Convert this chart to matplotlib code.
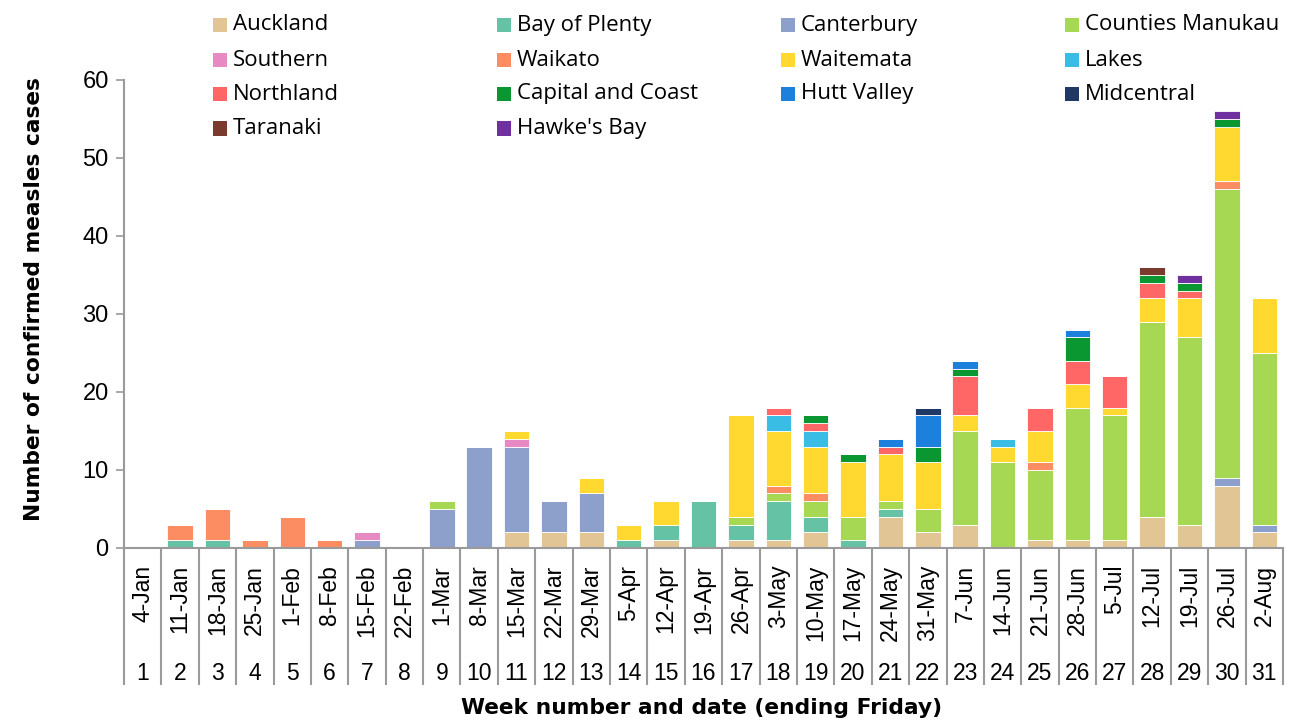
import numpy as np
import matplotlib.pyplot as plt
from matplotlib.patches import Rectangle

# ===== DATA =====
weeks = list(range(1, 32))
dates = ['4-Jan', '11-Jan', '18-Jan', '25-Jan', '1-Feb', '8-Feb', '15-Feb', '22-Feb',
         '1-Mar', '8-Mar', '15-Mar', '22-Mar', '29-Mar', '5-Apr', '12-Apr', '19-Apr',
         '26-Apr', '3-May', '10-May', '17-May', '24-May', '31-May', '7-Jun', '14-Jun',
         '21-Jun', '28-Jun', '5-Jul', '12-Jul', '19-Jul', '26-Jul', '2-Aug']

#                    wk 1-10                        wk 11-20                        wk 21-31
auckland         = [0, 0, 0, 0, 0, 0, 0, 0, 0, 0,  2, 2, 2, 0, 1, 0, 1, 1, 2, 0,  4, 2, 3, 0, 1, 1, 1, 4, 3, 8, 2]
bay_of_plenty    = [0, 1, 1, 0, 0, 0, 0, 0, 0, 0,  0, 0, 0, 1, 2, 6, 2, 5, 2, 1,  1, 0, 0, 0, 0, 0, 0, 0, 0, 0, 0]
canterbury       = [0, 0, 0, 0, 0, 0, 1, 0, 5, 13, 11, 4, 5, 0, 0, 0, 0, 0, 0, 0,  0, 0, 0, 0, 0, 0, 0, 0, 0, 1, 1]
counties_manukau = [0, 0, 0, 0, 0, 0, 0, 0, 1, 0,  0, 0, 0, 0, 0, 0, 1, 1, 2, 3,  1, 3, 12, 11, 9, 17, 16, 25, 24, 37, 22]
southern         = [0, 0, 0, 0, 0, 0, 1, 0, 0, 0,  1, 0, 0, 0, 0, 0, 0, 0, 0, 0,  0, 0, 0, 0, 0, 0, 0, 0, 0, 0, 0]
waikato          = [0, 2, 4, 1, 4, 1, 0, 0, 0, 0,  0, 0, 0, 0, 0, 0, 0, 1, 1, 0,  0, 0, 0, 0, 1, 0, 0, 0, 0, 1, 0]
waitemata        = [0, 0, 0, 0, 0, 0, 0, 0, 0, 0,  1, 0, 2, 2, 3, 0, 13, 7, 6, 7,  6, 6, 2, 2, 4, 3, 1, 3, 5, 7, 7]
lakes            = [0, 0, 0, 0, 0, 0, 0, 0, 0, 0,  0, 0, 0, 0, 0, 0, 0, 2, 2, 0,  0, 0, 0, 1, 0, 0, 0, 0, 0, 0, 0]
northland        = [0, 0, 0, 0, 0, 0, 0, 0, 0, 0,  0, 0, 0, 0, 0, 0, 0, 1, 1, 0,  1, 0, 5, 0, 3, 3, 4, 2, 1, 0, 0]
capital_coast    = [0, 0, 0, 0, 0, 0, 0, 0, 0, 0,  0, 0, 0, 0, 0, 0, 0, 0, 1, 1,  0, 2, 1, 0, 0, 3, 0, 1, 1, 1, 0]
hutt_valley      = [0, 0, 0, 0, 0, 0, 0, 0, 0, 0,  0, 0, 0, 0, 0, 0, 0, 0, 0, 0,  1, 4, 1, 0, 0, 1, 0, 0, 0, 0, 0]
midcentral       = [0, 0, 0, 0, 0, 0, 0, 0, 0, 0,  0, 0, 0, 0, 0, 0, 0, 0, 0, 0,  0, 1, 0, 0, 0, 0, 0, 0, 0, 0, 0]
taranaki         = [0, 0, 0, 0, 0, 0, 0, 0, 0, 0,  0, 0, 0, 0, 0, 0, 0, 0, 0, 0,  0, 0, 0, 0, 0, 0, 0, 1, 0, 0, 0]
hawkes_bay       = [0, 0, 0, 0, 0, 0, 0, 0, 0, 0,  0, 0, 0, 0, 0, 0, 0, 0, 0, 0,  0, 0, 0, 0, 0, 0, 0, 0, 1, 1, 0]

regions = ['Auckland', 'Bay of Plenty', 'Canterbury', 'Counties Manukau',
           'Southern', 'Waikato', 'Waitemata', 'Lakes',
           'Northland', 'Capital and Coast', 'Hutt Valley', 'Midcentral',
           'Taranaki', "Hawke's Bay"]
series = [auckland, bay_of_plenty, canterbury, counties_manukau,
          southern, waikato, waitemata, lakes,
          northland, capital_coast, hutt_valley, midcentral,
          taranaki, hawkes_bay]
colors = ['#E2C595', '#66C2A5', '#8DA0CB', '#A6D854',
          '#E78AC3', '#FC8D62', '#FFD92F', '#39BDE5',
          '#FF6666', '#0A9630', '#1C80DC', '#1F3864',
          '#7B3A2E', '#7030A0']

# ===== FIGURE =====
W, H = 1291, 722
fig = plt.figure(figsize=(W / 100, H / 100), dpi=100)
ax = fig.add_axes([124 / W, 1 - 548 / H, 1159 / W, 468 / H])

x = np.arange(len(weeks))
bottom = np.zeros(len(weeks))
for name, vals, col in zip(regions, series, colors):
    vals = np.array(vals, dtype=float)
    ax.bar(x, vals, bottom=bottom, width=0.68, color=col,
           edgecolor='white', linewidth=0.6, label=name)
    bottom += vals

grey = '#9A9A9A'
ax.set_xlim(-0.5, len(weeks) - 0.5)
ax.set_ylim(0, 60)
ax.set_yticks(range(0, 61, 10))
ax.tick_params(axis='y', labelsize=17, length=6, width=1.2, color=grey, pad=5)
for lab in ax.get_yticklabels():
    lab.set_family('Liberation Sans')
ax.set_xticks([])
for s in ['top', 'right']:
    ax.spines[s].set_visible(False)
for s in ['left', 'bottom']:
    ax.spines[s].set_color(grey)
    ax.spines[s].set_linewidth(1.5)

# table-like category axis below the plot
trans = ax.get_xaxis_transform()
for b in np.arange(-0.5, len(weeks), 1.0):
    ax.plot([b, b], [0, -0.293], transform=trans, color=grey, lw=1.5,
            clip_on=False, solid_capstyle='butt')
for i, (d, w) in enumerate(zip(dates, weeks)):
    ax.text(i, -0.036, d, transform=trans, rotation=90, ha='center', va='top',
            fontsize=16.5, family='Liberation Sans')
    ax.text(i, -0.268, str(w), transform=trans, ha='center', va='center',
            fontsize=16.5, family='Liberation Sans')

fig.text(34 / W, 1 - 299 / H, 'Number of confirmed measles cases', rotation=90,
         ha='center', va='center', fontsize=15.7, fontweight='bold',
         family='DejaVu Sans')
fig.text(702 / W, 1 - 708 / H, 'Week number and date (ending Friday)',
         ha='center', va='center', fontsize=15.7, fontweight='bold',
         family='DejaVu Sans')

# legend laid out row by row (equal column widths), like the original
col_x = [213, 497, 781, 1065]
row_y = [25, 60, 94, 128.5]
box = 14
for i, (name, col) in enumerate(zip(regions, colors)):
    r, c = divmod(i, 4)
    fig.patches.append(Rectangle((col_x[c] / W, 1 - (row_y[r] + box / 2) / H),
                                 box / W, box / H, transform=fig.transFigure,
                                 facecolor=col, edgecolor='none'))
    fig.text((col_x[c] + 20) / W, 1 - row_y[r] / H, name, ha='left', va='center',
             fontsize=16, family='Open Sans')

fig.savefig('out.png', dpi=100)
